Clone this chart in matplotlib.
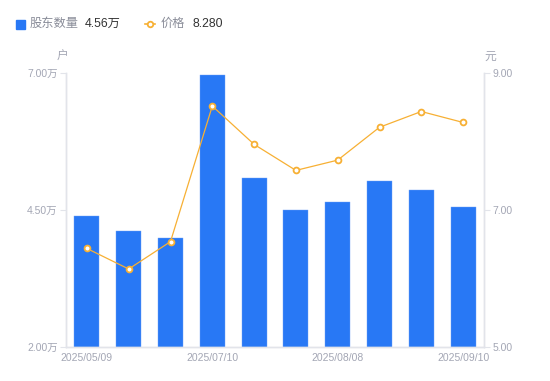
import numpy as np
import matplotlib.pyplot as plt
from matplotlib.lines import Line2D

plt.rcParams['font.family'] = ['Liberation Sans', 'Noto Sans CJK SC', 'DejaVu Sans']

dates = ['2025/05/09', '2025/05/30', '2025/06/20', '2025/07/10', '2025/07/20',
         '2025/07/31', '2025/08/08', '2025/08/20', '2025/08/31', '2025/09/10']
holders = [4.40, 4.11, 4.00, 6.96, 5.08, 4.51, 4.64, 5.04, 4.86, 4.56]  # 万户
price = [6.44, 6.14, 6.54, 8.52, 7.96, 7.58, 7.73, 8.21, 8.44, 8.28]
shown = [0, 3, 6, 9]
left_ticks = [2.0, 4.5, 7.0]
right_ticks = [5.0, 7.0, 9.0]

blue = '#2878f5'
orange = '#f7b034'
grey_txt = '#a3a6b4'
axis_col = '#e2e4ea'

fig = plt.figure(figsize=(5.5, 3.81), dpi=100)
ax = fig.add_axes([0.12, 0.089, 0.76, 0.719])
ax2 = ax.twinx()

x = np.arange(len(dates))
ax.bar(x, holders, width=0.6, color=blue, edgecolor='#6fa3f7', linewidth=0.3, zorder=2)
ax.set_ylim(2.0, 7.0)
ax.set_xlim(-0.5, len(dates) - 0.5)
ax.set_yticks(left_ticks)
ax.set_yticklabels(['%.2f万' % v for v in left_ticks])
ax.set_xticks(shown)
ax.set_xticklabels([dates[i] for i in shown])

ax2.plot(x, price, color=orange, lw=0.9, marker='o', ms=4.2, mfc='white',
         mec=orange, mew=1.3, zorder=3)
ax2.set_ylim(5.0, 9.0)
ax2.set_yticks(right_ticks)
ax2.set_yticklabels(['%.2f' % v for v in right_ticks])

for a in (ax, ax2):
    a.spines['top'].set_visible(False)
    for s in ('left', 'right', 'bottom'):
        a.spines[s].set_color(axis_col)
        a.spines[s].set_linewidth(1)
    a.tick_params(colors=grey_txt, labelsize=7.5, length=4, width=0.8)
    a.tick_params(axis='y', color=axis_col)
ax.tick_params(axis='x', length=0, pad=4)
ax.tick_params(axis='y', pad=2)
ax2.tick_params(axis='y', pad=2)

fig.text(57 / 550, 1 - 57 / 381, '户', color=grey_txt, fontsize=8.5, ha='left', va='center')
fig.text(484 / 550, 1 - 57 / 381, '元', color=grey_txt, fontsize=8.5, ha='left', va='center')

# legend
fig.patches.append(plt.Rectangle((16 / 550, 1 - 29 / 381), 9 / 550, 9 / 381,
                                 transform=fig.transFigure, color=blue))
fig.text(30 / 550, 1 - 24 / 381, '股东数量', color='#8a8d99', fontsize=8.8, va='center')
fig.text(85 / 550, 1 - 24 / 381, '4.56万', color='#333333', fontsize=8.8, va='center')
fig.lines.append(Line2D([145 / 550, 155 / 550], [1 - 24 / 381, 1 - 24 / 381],
                        transform=fig.transFigure, color=orange, lw=1.2))
fig.lines.append(Line2D([150 / 550], [1 - 24 / 381], transform=fig.transFigure,
                        marker='o', ms=4, mfc='white', mec=orange, mew=1.3, lw=0))
fig.text(161 / 550, 1 - 24 / 381, '价格', color='#8a8d99', fontsize=8.8, va='center')
fig.text(192 / 550, 1 - 24 / 381, '8.280', color='#333333', fontsize=8.8, va='center')

fig.savefig('out.png', dpi=100)
